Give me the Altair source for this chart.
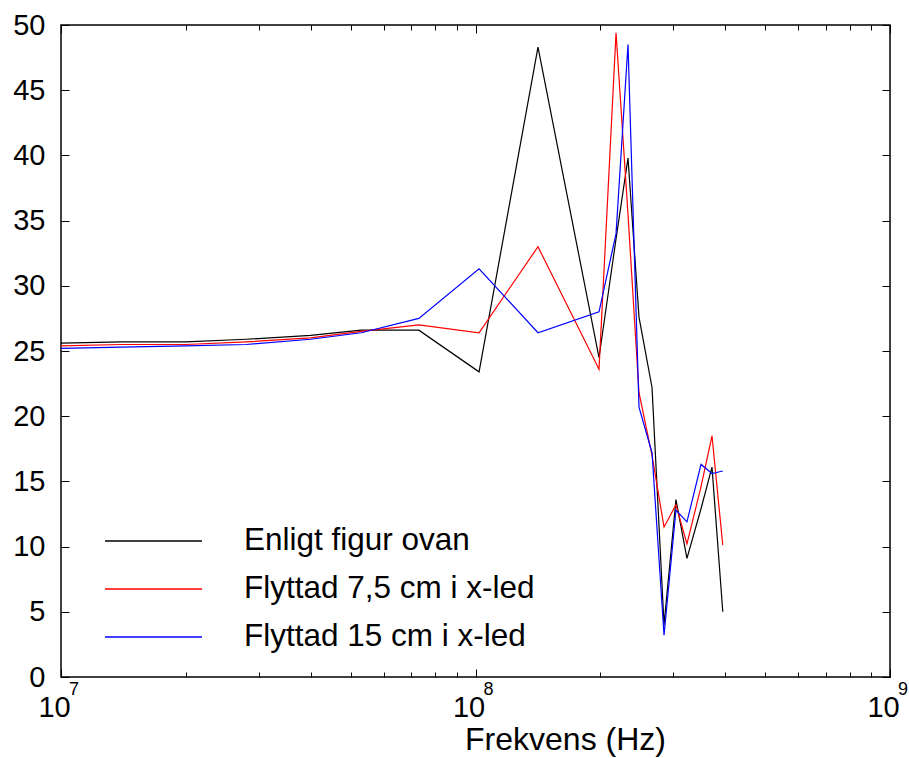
import altair as alt
import pandas as pd

# ---- data ----
freq = [1.0e7, 1.4e7, 2.0e7, 2.8e7, 4.0e7, 5.3e7, 7.3e7, 1.02e8, 1.415e8, 1.986e8,
        2.183e8, 2.333e8, 2.48e8, 2.666e8, 2.85e8, 3.045e8, 3.237e8, 3.5e8, 3.72e8, 3.95e8]
black = [25.6, 25.7, 25.7, 25.9, 26.2, 26.6, 26.6, 23.4, 48.3, 24.5,
         33.6, 39.8, 27.6, 22.2, 4.0, 13.6, 9.1, 12.9, 16.1, 5.0]
red = [25.4, 25.5, 25.5, 25.7, 26.0, 26.5, 27.0, 26.4, 33.0, 23.6,
       49.4, 35.5, 21.8, 17.0, 11.5, 13.2, 10.2, 14.6, 18.5, 10.1]
blue = [25.2, 25.3, 25.4, 25.5, 25.9, 26.4, 27.5, 31.3, 26.4, 28.0,
        34.0, 48.5, 20.7, 17.2, 3.2, 12.8, 11.9, 16.3, 15.6, 15.8]
series_names = ["Enligt figur ovan", "Flyttad 7,5 cm i x-led", "Flyttad 15 cm i x-led"]
series_colors = ["#000000", "#ff0000", "#0000ff"]

major_x = [1e7, 1e8, 1e9]
exponents = ["7", "8", "9"]
all_x_ticks = [m * 10 ** d for d in (7, 8) for m in range(1, 10)] + [1e9]
y_ticks = list(range(0, 51, 5))

rows = []
for name, vals in zip(series_names, [black, red, blue]):
    for f, v in zip(freq, vals):
        rows.append({"freq": f, "value": v, "series": name})
df = pd.DataFrame(rows)
exp_df = pd.DataFrame({"freq": major_x, "exp": exponents})

W, H = 829, 652
FONT = "Liberation Sans"

xscale = alt.Scale(type="log", domain=[1e7, 1e9], nice=False)
yscale = alt.Scale(domain=[0, 50], nice=False)
cscale = alt.Scale(domain=series_names, range=series_colors)
legend = alt.Legend(orient="none", legendX=43, legendY=492, title=None,
                    symbolType="stroke", symbolSize=9409, symbolStrokeWidth=1.5,
                    labelOffset=41, clipHeight=48, rowPadding=0, labelFontSize=31.5,
                    labelFont=FONT, labelColor="black", padding=0, labelLimit=0)

major_test = "abs(log(datum.value)/LN10 - round(log(datum.value)/LN10)) < 0.01"
tick_size = {"condition": {"test": major_test, "value": 8}, "value": 5}

# axes: labels / inward ticks on each edge
x_label_axis = alt.Axis(orient="bottom", values=major_x, ticks=False, tickSize=0, domain=False,
                        grid=False, labelExpr="'10'", labelFontSize=29, labelFont=FONT,
                        labelColor="black", labelPadding=16, labelOffset=-7, labelFlush=False,
                        title="Frekvens (Hz)", titleFontSize=32, titleFont=FONT,
                        titleFontWeight="normal", titleColor="black", titleX=504, titleY=72,
                        titleAlign="center", titleBaseline="alphabetic")
y_label_axis = alt.Axis(orient="left", values=y_ticks, ticks=False, tickSize=0, domain=False,
                        grid=False, labelFontSize=29, labelFont=FONT, labelColor="black",
                        labelPadding=16, title=None)
x_bottom_ticks = alt.Axis(orient="top", offset=-H, values=all_x_ticks, labels=False,
                          domain=False, grid=False, tickSize=tick_size, tickColor="black",
                          tickWidth=1, title=None)
x_top_ticks = alt.Axis(orient="bottom", offset=-H, values=all_x_ticks, labels=False,
                       domain=False, grid=False, tickSize=tick_size, tickColor="black",
                       tickWidth=1, title=None)
y_left_ticks = alt.Axis(orient="right", offset=-W, values=y_ticks, labels=False,
                        domain=False, grid=False, tickSize=8, tickColor="black",
                        tickWidth=1, title=None)
y_right_ticks = alt.Axis(orient="left", offset=-W, values=y_ticks, labels=False,
                         domain=False, grid=False, tickSize=8, tickColor="black",
                         tickWidth=1, title=None)


def series_layer(name, xaxis, yaxis):
    return alt.Chart(df).transform_filter(alt.datum.series == name).mark_line(
        strokeWidth=1.2, clip=True
    ).encode(
        x=alt.X("freq:Q", scale=xscale, axis=xaxis),
        y=alt.Y("value:Q", scale=yscale, axis=yaxis),
        color=alt.Color("series:N", scale=cscale, legend=legend),
    )


l1 = series_layer(series_names[0], x_label_axis, y_label_axis)
l2 = series_layer(series_names[1], x_bottom_ticks, y_left_ticks)
l3 = series_layer(series_names[2], x_top_ticks, y_right_ticks)

exp_layer = alt.Chart(exp_df).mark_text(
    align="left", baseline="middle", fontSize=18, font=FONT, color="black", dx=8
).encode(
    x=alt.X("freq:Q", scale=xscale, axis=None),
    y=alt.value(H + 13),
    text="exp:N",
)

chart = alt.layer(l1, l2, l3, exp_layer).resolve_axis(
    x="independent", y="independent"
).properties(
    width=W, height=H,
    padding={"left": 61, "top": 25, "right": 19, "bottom": 81},
    autosize=alt.AutoSizeParams(type="none"),
    background="white",
).configure_view(stroke="black", strokeWidth=1.5)

chart.save("out.html", embed_options={"renderer": "svg", "actions": False})
